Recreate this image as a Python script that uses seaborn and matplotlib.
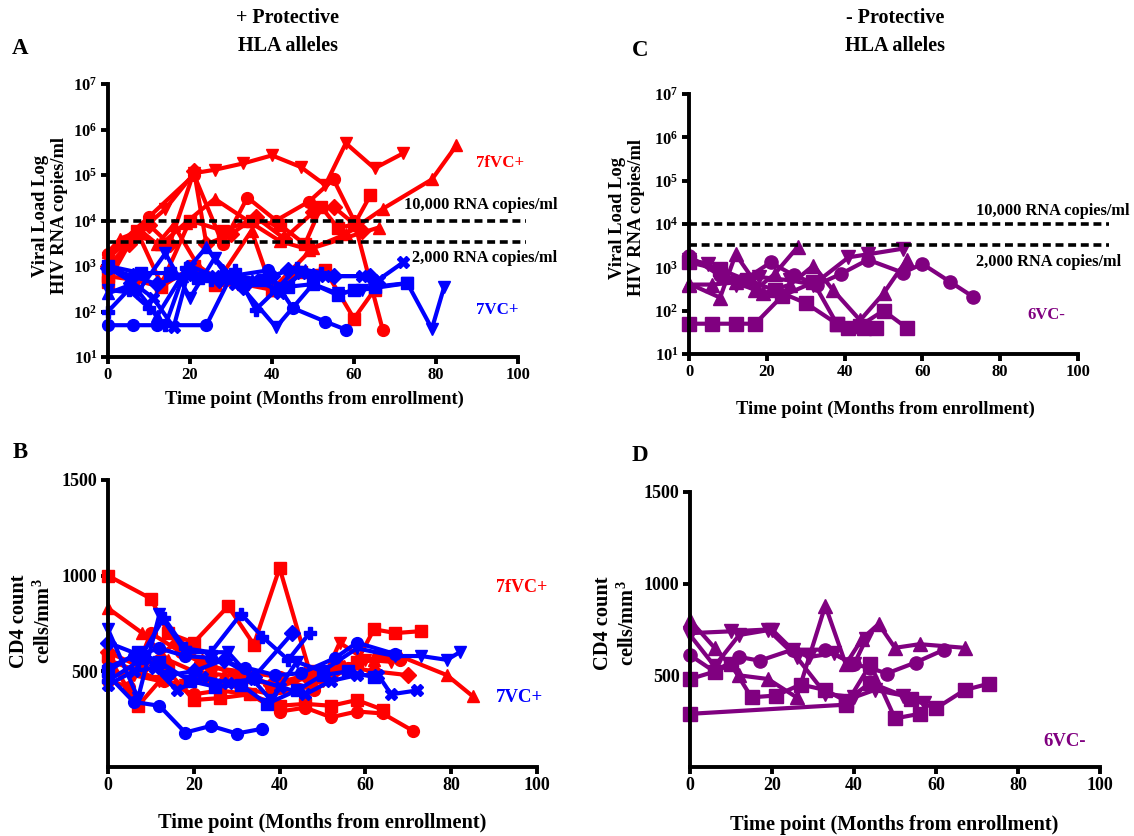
import pandas as pd
import seaborn as sns
import matplotlib.pyplot as plt
from matplotlib.ticker import NullLocator

# Panel A: viral load (copies/ml), 7fVC+ (red) and 7VC+ (blue)
a_red_months = [
    [0, 7, 14, 21, 26, 33, 40, 47, 53, 58, 65, 72],
    [0, 6, 13, 19, 26, 34, 42, 49, 58, 67, 79, 85],
    [0, 10, 21, 28, 34, 41, 49, 55, 60, 67],
    [0, 7, 13, 20, 28, 35, 42, 48, 52, 56, 60, 64],
    [0, 6, 13, 21, 26, 33, 40, 47, 53, 60, 65],
    [0, 5, 10, 15, 21, 24, 30, 36, 43, 50, 55, 62],
    [0, 3, 8, 12, 16, 22, 27, 35, 40, 50, 66],
]
a_red_vl = [
    [1500, 5000, 18000, 110000, 130000, 180000, 270000, 150000, 60000, 500000, 140000, 300000],
    [700, 5000, 3000, 9000, 30000, 10000, 3500, 2300, 5000, 18000, 80000, 450000],
    [1800, 12000, 100000, 3000, 32000, 10000, 26000, 80000, 10000, 40],
    [450, 6000, 400, 10000, 6000, 10000, 8000, 3000, 20000, 7000, 8000, 36000],
    [600, 500, 350, 1000, 380, 400, 300, 750, 800, 70, 300],
    [1000, 3000, 8000, 3000, 120000, 3000, 5000, 12000, 4000, 15000, 20000, 6000],
    [2000, 4000, 6000, 3000, 8000, 1000, 500, 6000, 300, 2500, 7000],
]
a_blue_months = [
    [0, 6, 12, 24, 30, 39, 45, 53, 58],
    [0, 7, 14, 20, 26, 32, 41, 50, 56, 62, 73, 79, 82],
    [0, 5, 11, 16, 20, 26, 31, 37, 42, 47, 53, 62, 66, 72],
    [0, 8, 15, 22, 30, 38, 44, 50, 56, 60, 65, 73],
    [0, 6, 12, 18, 24, 28, 35, 42, 48],
    [0, 6, 12, 20, 27, 33, 40, 44, 50, 55, 64],
    [0, 5, 10, 14, 19, 25, 31, 36, 41, 46, 52],
]
a_blue_vl = [
    [50, 50, 50, 50, 600, 800, 120, 60, 40],
    [300, 250, 1900, 200, 1500, 400, 45, 400, 250, 300, 420, 42, 350],
    [900, 500, 200, 45, 1000, 600, 400, 500, 250, 700, 600, 600, 500, 1200],
    [1000, 700, 700, 550, 600, 500, 350, 400, 230, 300, 350, 420],
    [250, 400, 80, 600, 2600, 800, 500, 300, 800],
    [900, 600, 400, 700, 500, 350, 600, 800, 600, 600, 600],
    [100, 300, 120, 50, 900, 500, 800, 110, 300, 900, 700],
]

# Panel B: CD4 count (cells/mm3)
b_red_months = [
    [0, 10, 14, 20, 28, 34, 40, 47, 52, 58, 62, 67, 73],
    [0, 8, 14, 20, 27, 33, 40, 48, 55, 62, 68, 79, 85],
    [0, 7, 13, 20, 26, 33, 40, 46, 52, 58, 64, 71],
    [0, 7, 14, 20, 26, 33, 40, 46, 52, 58, 64],
    [0, 6, 12, 18, 24, 30, 38, 44, 50, 54, 60, 66],
    [0, 8, 16, 22, 30, 38, 46, 54, 62, 70],
    [0, 5, 10, 17, 24, 31, 40, 48, 56, 63, 68],
]
b_red_cd4 = [
    [1000, 880, 700, 650, 840, 640, 1040, 500, 480, 550, 720, 700, 710],
    [830, 700, 560, 500, 480, 470, 420, 480, 530, 560, 580, 480, 370],
    [560, 500, 450, 380, 400, 380, 290, 310, 260, 290, 280, 190],
    [580, 320, 500, 350, 360, 380, 320, 330, 320, 350, 300],
    [500, 480, 450, 430, 450, 420, 380, 400, 450, 650, 560, 550],
    [600, 520, 650, 550, 480, 430, 480, 530, 500, 480],
    [450, 420, 700, 600, 520, 500, 470, 400, 520, 580, 560],
]
b_blue_months = [
    [0, 6, 12, 18, 24, 30, 36],
    [0, 7, 12, 18, 28, 38, 44, 50, 58, 67, 73, 79, 82],
    [0, 6, 12, 18, 24, 32, 39, 45, 53, 58, 67],
    [0, 7, 13, 18, 24, 31, 36, 42, 47],
    [0, 6, 11, 16, 22, 28, 34, 40, 46, 52, 58, 63, 66, 72],
    [0, 8, 14, 20, 27, 34, 43],
    [0, 7, 12, 19, 25, 31, 37, 44, 50, 56, 62],
]
b_blue_cd4 = [
    [480, 340, 320, 180, 215, 175, 200],
    [720, 360, 800, 600, 600, 350, 550, 500, 620, 580, 580, 560, 600],
    [520, 580, 620, 580, 570, 520, 480, 490, 570, 650, 590],
    [450, 550, 780, 620, 600, 800, 680, 560, 700],
    [430, 500, 520, 400, 470, 440, 460, 420, 380, 450, 480, 480, 380, 400],
    [650, 580, 480, 500, 560, 470, 700],
    [500, 600, 550, 450, 420, 430, 330, 400, 480, 500, 470],
]

# Panel C: viral load, 6VC- (purple)
c_months = [
    [0, 6, 12, 17, 24, 32, 38, 41, 45, 48],
    [0, 8, 14, 21, 27, 33, 39, 46, 55, 60, 67, 73],
    [0, 8, 12, 19, 26, 32, 37, 44, 50, 56],
    [0, 5, 12, 18, 26, 32, 41, 46, 55],
    [0, 6, 12, 17, 22, 28],
    [0, 8, 15, 22, 30, 38, 44, 50, 56],
]
c_vl = [
    [50, 50, 50, 50, 220, 450, 50, 40, 40, 40],
    [1800, 650, 500, 1300, 650, 400, 700, 1500, 750, 1200, 470, 210],
    [420, 200, 2000, 250, 400, 1100, 300, 60, 250, 1500],
    [1500, 1200, 400, 600, 500, 400, 1700, 2000, 2700],
    [400, 400, 450, 300, 700, 3000],
    [1300, 900, 500, 300, 150, 50, 45, 100, 40],
]

# Panel D: CD4 count, 6VC-
d_months = [
    [0, 38, 44, 50, 56],
    [0, 6, 10, 15, 21, 27, 33, 38, 44, 54, 60, 67, 73],
    [0, 6, 12, 19, 26, 33, 38, 42, 46, 50, 56, 67],
    [0, 6, 12, 20, 25, 29, 35, 40, 43],
    [0, 6, 12, 17, 25, 33, 40, 44, 48, 55, 62],
    [0, 10, 19, 26, 33, 40, 45, 52, 57],
]
d_cd4 = [
    [290, 340, 560, 265, 290],
    [480, 520, 560, 380, 390, 450, 420, 360, 460, 370, 320, 420, 455],
    [800, 650, 500, 480, 380, 880, 560, 700, 780, 650, 670, 650],
    [720, 550, 720, 750, 640, 600, 620, 560, 700],
    [610, 520, 600, 580, 640, 640, 560, 540, 510, 570, 640],
    [730, 740, 750, 600, 400, 380, 420, 390, 350],
]

a_red_markers = ["v", "^", "o", "s", "s", "D", "^"]
a_blue_markers = ["o", "v", "X", "s", "^", "D", "P"]
b_red_markers = ["s", "^", "o", "s", "v", "D", "o"]
b_blue_markers = ["o", "v", "o", "P", "X", "D", "s"]
c_markers = ["s", "o", "^", "v", "^", "s"]
d_markers = ["s", "s", "^", "v", "o", "v"]

thresholds = [10000, 3300]
threshold_labels = ["10,000 RNA copies/ml", "2,000 RNA copies/ml"]

RED, BLUE, PURPLE = "#ff0000", "#0000ff", "#800080"

sns.set_theme(style="ticks")
plt.rcParams.update({
    "font.family": ["Liberation Serif", "DejaVu Serif"],
    "font.weight": "bold",
    "axes.labelweight": "bold",
    "mathtext.fontset": "custom",
    "mathtext.rm": "Liberation Serif:bold",
    "mathtext.it": "Liberation Serif:bold",
    "mathtext.bf": "Liberation Serif:bold",
    "mathtext.default": "rm",
    "text.color": "black",
    "axes.edgecolor": "black",
    "axes.labelcolor": "black",
    "xtick.color": "black",
    "ytick.color": "black",
    "axes.linewidth": 2.8,
    "xtick.major.width": 2.8,
    "ytick.major.width": 2.8,
    "xtick.major.size": 5,
    "ytick.major.size": 5,
})


def long_table(months, values, group, markers):
    rows = []
    marks = {}
    for i, (xs, ys) in enumerate(zip(months, values)):
        name = f"{group}_{i}"
        marks[name] = markers[i]
        for x, y in zip(xs, ys):
            rows.append({"month": x, "value": y, "subject": name, "group": group})
    return pd.DataFrame(rows), marks


def draw(ax, parts, palette, ms):
    frames, marks = [], {}
    for months, values, group, markers in parts:
        df, m = long_table(months, values, group, markers)
        frames.append(df)
        marks.update(m)
    data = pd.concat(frames, ignore_index=True)
    sns.lineplot(data=data, x="month", y="value", hue="group", style="subject",
                 palette=palette, markers=marks, dashes=False, estimator=None,
                 legend=False, ax=ax, lw=3.0, ms=ms, clip_on=False, zorder=2)
    for ln in ax.lines:
        ln.set_markeredgecolor(ln.get_color())
        ln.set_markeredgewidth(1.0)


W, H = 1134, 836
fig = plt.figure(figsize=(W / 100, H / 100), dpi=100)


def box(l, r, t, b):
    return [l / W, 1 - b / H, (r - l) / W, (b - t) / H]


axA = fig.add_axes(box(108, 518, 84, 357))
axB = fig.add_axes(box(108, 537, 480, 767))
axC = fig.add_axes(box(689, 1078, 94, 354))
axD = fig.add_axes(box(690, 1100, 492, 767))

draw(axA, [(a_red_months, a_red_vl, "7fVC+", a_red_markers),
           (a_blue_months, a_blue_vl, "7VC+", a_blue_markers)],
     {"7fVC+": RED, "7VC+": BLUE}, 8.5)
draw(axB, [(b_red_months, b_red_cd4, "7fVC+", b_red_markers),
           (b_blue_months, b_blue_cd4, "7VC+", b_blue_markers)],
     {"7fVC+": RED, "7VC+": BLUE}, 8.5)
draw(axC, [(c_months, c_vl, "6VC-", c_markers)], {"6VC-": PURPLE}, 9.5)
draw(axD, [(d_months, d_cd4, "6VC-", d_markers)], {"6VC-": PURPLE}, 9.5)

for ax in [axA, axB, axC, axD]:
    sns.despine(ax=ax)
    ax.set_xlim(0, 100)
    ax.set_xticks([0, 20, 40, 60, 80, 100])
    ax.set_xlabel("")
    ax.set_ylabel("")

for ax, ext in [(axA, 1.02), (axC, 1.08)]:
    ax.set_yscale("log")
    ax.set_ylim(10, 1e7)
    ax.set_yticks([10 ** k for k in range(1, 8)],
                  [f"$10^{{{k}}}$" for k in range(1, 8)])
    ax.yaxis.set_minor_locator(NullLocator())
    ax.tick_params(labelsize=12, pad=2.5)
    for lvl in thresholds:
        ax.axhline(lvl, xmin=0, xmax=ext, color="black", lw=2.6,
                   ls=(0, (2.2, 1.3)), clip_on=False, zorder=3)

for ax in [axB, axD]:
    ax.set_ylim(0, 1500)
    ax.set_yticks([500, 1000, 1500])
    ax.tick_params(labelsize=13, pad=2.5)


def px(x, y):
    return x / W, 1 - y / H


def put(x, y, s, size, color="black", ha="center", **kw):
    fig.text(*px(x, y), s, fontsize=size, color=color, ha=ha, va="center",
             fontweight="bold", **kw)


# column headers and panel letters
put(288, 18, "+ Protective", 14.5)
put(288, 46, "HLA alleles", 14.5)
put(895, 18, "- Protective", 14.5)
put(895, 46, "HLA alleles", 14.5)
put(20, 49, "A", 16.5)
put(20, 453, "B", 16.5)
put(640, 50, "C", 16.5)
put(640, 455, "D", 16.5)

# axis titles
put(314, 399, "Time point (Months from enrollment)", 13.3)
put(885, 409, "Time point (Months from enrollment)", 13.3)
put(322, 823, "Time point (Months from enrollment)", 14.7)
put(894, 825, "Time point (Months from enrollment)", 14.7)
put(50, 216, "Viral Load Log\nHIV RNA copies/ml", 13.3, rotation=90,
    multialignment="center", linespacing=1.1)
put(627, 218, "Viral Load Log\nHIV RNA copies/ml", 13.3, rotation=90,
    multialignment="center", linespacing=1.1)
put(32, 621, "CD4 count\ncells/mm$^{3}$", 14.7, rotation=90,
    multialignment="center", linespacing=1.3)
put(616, 623, "CD4 count\ncells/mm$^{3}$", 14.7, rotation=90,
    multialignment="center", linespacing=1.25)

# group labels
put(476, 163, "7fVC+", 12.2, RED, ha="left")
put(476, 310, "7VC+", 12.2, BLUE, ha="left")
put(496, 587, "7fVC+", 13, RED, ha="left")
put(496, 697, "7VC+", 13.5, BLUE, ha="left")
put(1027, 315, "6VC-", 12, PURPLE, ha="left")
put(1043, 741, "6VC-", 13.5, PURPLE, ha="left")

# threshold labels
put(404, 205, threshold_labels[0], 11.8, ha="left")
put(412, 258, threshold_labels[1], 11.8, ha="left")
put(976, 211, threshold_labels[0], 11.8, ha="left")
put(976, 262, threshold_labels[1], 11.8, ha="left")

plt.savefig("out.png", dpi=100)
plt.close()
